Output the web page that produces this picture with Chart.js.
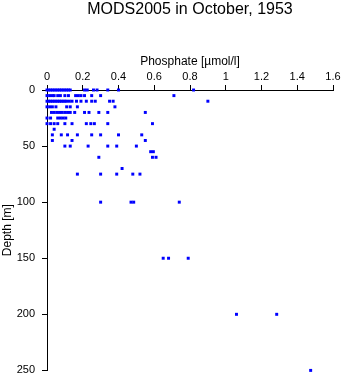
<!DOCTYPE html>
<html>
<head>
<meta charset="utf-8">
<script src="https://cdn.jsdelivr.net/npm/chart.js@4/dist/chart.umd.min.js"></script>
<style>
  html, body { margin: 0; padding: 0; background: #fff; }
  #wrap { width: 343px; height: 384px; position: relative; }
</style>
</head>
<body>
<div id="wrap"><canvas id="c"></canvas></div>
<script>
// Phosphate [µmol/l] values, one array per standard depth level [m]
const p000 = [0.00, 0.01, 0.02, 0.03, 0.04, 0.05, 0.06, 0.07, 0.08, 0.09, 0.10, 0.11, 0.12, 0.13, 0.21, 0.225, 0.26, 0.28, 0.34, 0.40, 0.82];
const p005 = [0.00, 0.015, 0.03, 0.04, 0.06, 0.075, 0.10, 0.12, 0.16, 0.175, 0.19, 0.21, 0.25, 0.30, 0.71];
const p010 = [0.00, 0.01, 0.02, 0.03, 0.04, 0.05, 0.06, 0.07, 0.08, 0.09, 0.10, 0.11, 0.125, 0.14, 0.165, 0.19, 0.22, 0.25, 0.27, 0.35, 0.37, 0.90];
const p015 = [0.00, 0.015, 0.03, 0.05, 0.11, 0.13, 0.17, 0.38];
const p020 = [0.025, 0.04, 0.055, 0.07, 0.085, 0.10, 0.115, 0.13, 0.155, 0.21, 0.235, 0.29, 0.34, 0.55];
const p025 = [0.00, 0.02, 0.06, 0.075, 0.09, 0.105];
const p030 = [0.00, 0.02, 0.04, 0.06, 0.10, 0.14, 0.22, 0.245, 0.265, 0.34, 0.59];
const p035 = [0.04];
const p040 = [0.03, 0.08, 0.115, 0.17, 0.25, 0.30, 0.40, 0.53];
const p045 = [0.03, 0.14, 0.55];
const p050 = [0.10, 0.13, 0.23, 0.34, 0.39, 0.50];
const p055 = [0.58, 0.595];
const p060 = [0.29, 0.59, 0.61];
const p070 = [0.42];
const p075 = [0.17, 0.30, 0.39, 0.48, 0.52];
const p100 = [0.30, 0.47, 0.485, 0.74];
const p150 = [0.65, 0.68, 0.79];
const p200 = [1.06, 1.285];
const p250 = [1.475];

const depthLevels = [0, 5, 10, 15, 20, 25, 30, 35, 40, 45, 50, 55, 60, 70, 75, 100, 150, 200, 250];
const levelValues = [p000, p005, p010, p015, p020, p025, p030, p035, p040, p045, p050, p055, p060, p070, p075, p100, p150, p200, p250];

const xTickValues = [0, 0.2, 0.4, 0.6, 0.8, 1, 1.2, 1.4, 1.6];
const xTickLabels = ['0', '0.2', '0.4', '0.6', '0.8', '1', '1.2', '1.4', '1.6'];
const yTickValues = [0, 50, 100, 150, 200, 250];
const yTickLabels = ['0', '50', '100', '150', '200', '250'];

const titleText = 'MODS2005 in October, 1953';
const xTitle = 'Phosphate [\u00b5mol/l]';
const yTitle = 'Depth [m]';

const points = [];
depthLevels.forEach((d, i) => {
  levelValues[i].forEach(v => points.push({ x: v, y: d }));
});

const FONT = 'Liberation Sans, Arial, Helvetica, sans-serif';

function lookup(values, labels, v) {
  let best = 0;
  values.forEach((t, i) => { if (Math.abs(t - v) < Math.abs(values[best] - v)) best = i; });
  return labels[best];
}

// Title centred over the plot area (as in the reference)
const plotTitle = {
  id: 'plotTitle',
  afterDraw(chart) {
    const { ctx, chartArea } = chart;
    ctx.save();
    ctx.fillStyle = '#000';
    ctx.font = '16px ' + FONT;
    ctx.textAlign = 'center';
    ctx.textBaseline = 'middle';
    ctx.fillText(titleText, (chartArea.left + chartArea.right) / 2, 10);
    ctx.restore();
  }
};

new Chart(document.getElementById('c'), {
  type: 'scatter',
  data: {
    datasets: [{
      data: points,
      pointStyle: 'rect',
      pointRadius: 2.1,
      pointBorderWidth: 0,
      pointBackgroundColor: '#0000ff',
      pointBorderColor: '#0000ff',
      clip: false
    }]
  },
  options: {
    responsive: true,
    maintainAspectRatio: false,
    devicePixelRatio: 1,
    animation: false,
    events: [],
    layout: { padding: { top: 19, left: 0, right: 10, bottom: 9 } },
    plugins: {
      legend: { display: false },
      tooltip: { enabled: false },
      title: { display: false }
    },
    scales: {
      x: {
        type: 'linear',
        position: 'top',
        min: 0,
        max: 1.6,
        afterFit: s => { s.height = 71; },
        ticks: {
          stepSize: 0.2,
          color: '#000',
          font: { family: FONT, size: 11 },
          padding: 1,
          maxRotation: 0,
          autoSkip: false,
          callback: v => lookup(xTickValues, xTickLabels, v)
        },
        grid: { display: true, drawOnChartArea: false, drawTicks: true, tickLength: 5, color: '#000', lineWidth: 1 },
        border: { display: true, color: '#000', width: 1 },
        title: {
          display: true,
          text: xTitle,
          color: '#000',
          font: { family: FONT, size: 12 },
          padding: { top: 35, bottom: 0 }
        }
      },
      y: {
        type: 'linear',
        reverse: true,
        min: 0,
        max: 250,
        afterFit: s => { s.width = 47; },
        ticks: {
          stepSize: 50,
          color: '#000',
          font: { family: FONT, size: 11 },
          padding: 7,
          autoSkip: false,
          callback: v => lookup(yTickValues, yTickLabels, v)
        },
        grid: { display: true, drawOnChartArea: false, drawTicks: true, tickLength: 5, color: '#000', lineWidth: 1 },
        border: { display: true, color: '#000', width: 1 },
        title: {
          display: true,
          text: yTitle,
          color: '#000',
          font: { family: FONT, size: 12 },
          padding: { top: 0, bottom: 0 }
        }
      }
    }
  },
  plugins: [plotTitle]
});
</script>
</body>
</html>
